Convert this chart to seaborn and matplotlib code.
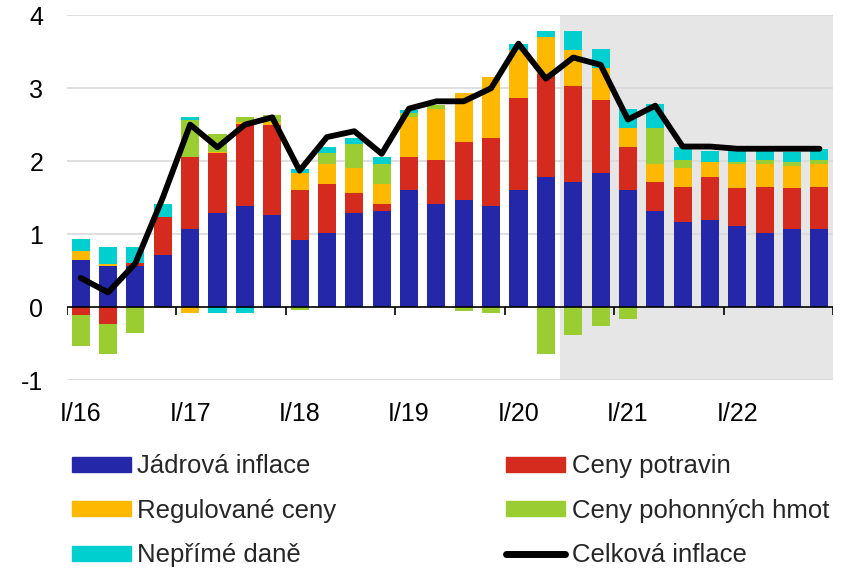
import matplotlib
matplotlib.use("Agg")
import matplotlib.pyplot as plt
import numpy as np
import pandas as pd
import seaborn as sns
from matplotlib.patches import Patch
from matplotlib.lines import Line2D

sns.set_theme(style="white")
plt.rcParams["font.family"] = ["Liberation Sans", "DejaVu Sans"]

# quarters I/16 .. IV/22
quarters = [f"{q}/{y}" for y in range(16, 23) for q in ["I", "II", "III", "IV"]]

core = [0.65, 0.56, 0.56, 0.71, 1.07, 1.29, 1.38, 1.26, 0.92, 1.01, 1.29, 1.32, 1.60, 1.41,
        1.47, 1.38, 1.60, 1.78, 1.71, 1.84, 1.60, 1.32, 1.17, 1.20, 1.11, 1.01, 1.07, 1.07]
food = [-0.11, -0.23, 0.05, 0.52, 0.98, 0.82, 1.13, 1.24, 0.68, 0.67, 0.27, 0.09, 0.45, 0.61,
        0.79, 0.94, 1.27, 1.42, 1.32, 1.00, 0.60, 0.39, 0.48, 0.58, 0.52, 0.64, 0.56, 0.58]
administered = [0.12, 0.03, 0.00, -0.01, -0.08, 0.01, 0.02, 0.04, 0.24, 0.28, 0.35, 0.28, 0.56, 0.70,
                0.68, 0.83, 0.66, 0.50, 0.49, 0.43, 0.25, 0.25, 0.26, 0.21, 0.33, 0.31, 0.31, 0.31]
fuel = [-0.43, -0.42, -0.35, 0.00, 0.51, 0.25, 0.07, 0.09, -0.04, 0.15, 0.32, 0.27, 0.05, 0.05,
        -0.05, -0.08, 0.00, -0.65, -0.38, -0.26, -0.17, 0.49, 0.11, 0.00, 0.03, 0.06, 0.05, 0.06]
taxes = [0.16, 0.24, 0.22, 0.18, 0.05, -0.08, -0.08, -0.01, 0.05, 0.09, 0.09, 0.10, 0.04, 0.00,
         0.00, 0.00, 0.08, 0.09, 0.27, 0.27, 0.27, 0.33, 0.18, 0.15, 0.15, 0.12, 0.14, 0.15]
headline = [0.40, 0.20, 0.60, 1.50, 2.50, 2.19, 2.50, 2.60, 1.87, 2.33, 2.41, 2.10, 2.72, 2.82,
            2.82, 3.00, 3.61, 3.13, 3.42, 3.32, 2.57, 2.76, 2.20, 2.20, 2.17, 2.17, 2.17, 2.17]
forecast_start = "III/20"

components = {
    "Jádrová inflace": (core, "#2327a8"),
    "Ceny potravin": (food, "#d52b1e"),
    "Regulované ceny": (administered, "#ffb800"),
    "Ceny pohonných hmot": (fuel, "#9acd32"),
    "Nepřímé daně": (taxes, "#00cfd0"),
}

x = np.arange(len(quarters))
df = pd.DataFrame({"x": x, "Celková inflace": headline})

fig = plt.figure(figsize=(8.56, 5.70), dpi=100)
ax = fig.add_axes([0.0783, 0.3333, 0.895, 0.640])

# forecast shading
fs = quarters.index(forecast_start) - 0.5
ax.axvspan(fs, len(quarters) - 0.5, color="#e6e6e6", zorder=0, lw=0)

for yv in [-1, 1, 2, 3, 4]:
    ax.axhline(yv, color="#d9d9d9", lw=1.2, zorder=1)

pos_base = np.zeros(len(x))
neg_base = np.zeros(len(x))
for name, (vals, col) in components.items():
    v = np.array(vals)
    bottom = np.where(v >= 0, pos_base, neg_base)
    ax.bar(x, v, bottom=bottom, width=0.66, color=col, edgecolor="none", zorder=2)
    pos_base += np.where(v >= 0, v, 0)
    neg_base += np.where(v < 0, v, 0)

sns.lineplot(data=df, x="x", y="Celková inflace", color="black", lw=4.2, ax=ax, zorder=4)

# zero axis with year separators
ax.axhline(0, color="black", lw=1.2, zorder=3)
bounds = np.arange(-0.5, len(quarters), 4)
ax.vlines(bounds, -0.11, 0, color="black", lw=1.2, zorder=3)

ax.set_xlim(-0.5, len(quarters) - 0.5)
ax.set_ylim(-1, 4)
ax.set_xticks(x[::4])
ax.set_xticklabels(quarters[::4])
ax.set_yticks([-1, 0, 1, 2, 3, 4])
ax.set_yticklabels(["-1", "0", "1", "2", "3", "4"])
ax.tick_params(axis="both", length=0, labelsize=18, colors="black")
ax.tick_params(axis="x", pad=16)
ax.tick_params(axis="y", pad=17)
ax.set_xlabel("")
ax.set_ylabel("")
for s in ax.spines.values():
    s.set_visible(False)

handles = [
    Patch(color=components["Jádrová inflace"][1], label="Jádrová inflace"),
    Patch(color=components["Regulované ceny"][1], label="Regulované ceny"),
    Patch(color=components["Nepřímé daně"][1], label="Nepřímé daně"),
    Patch(color=components["Ceny potravin"][1], label="Ceny potravin"),
    Patch(color=components["Ceny pohonných hmot"][1], label="Ceny pohonných hmot"),
    Line2D([], [], color="black", lw=5, label="Celková inflace"),
]
fig.legend(handles=handles, ncol=2, loc="upper left", bbox_to_anchor=(0.072, 0.221),
           frameon=False, fontsize=18.5, handlelength=2.3, handleheight=0.5,
           handletextpad=0.25, labelspacing=0.8, columnspacing=6.6, borderaxespad=0)

fig.savefig("out.png", dpi=100)
